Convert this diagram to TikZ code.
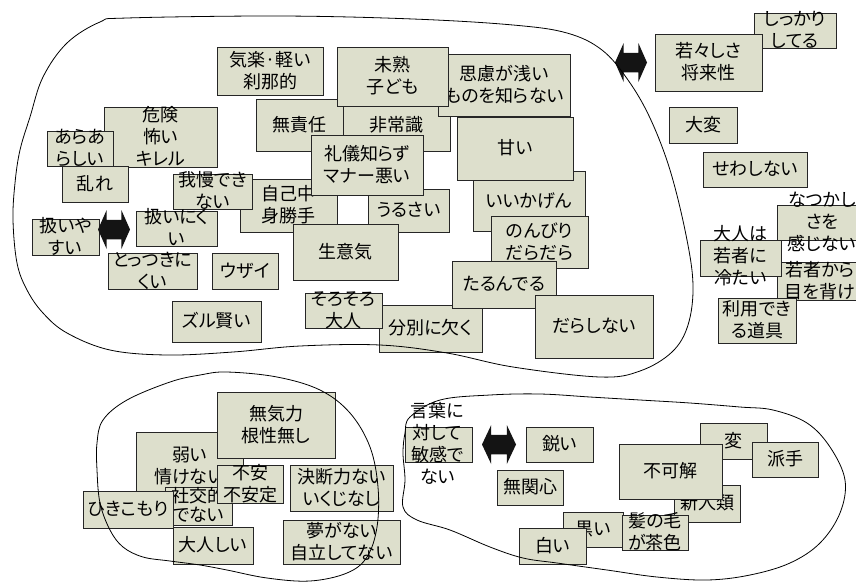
\documentclass[tikz,border=0pt]{standalone}
\usepackage{fontspec}
\setmainfont{Noto Sans CJK JP}[RawFeature={+palt}]
\usetikzlibrary{calc}
\definecolor{boxfill}{RGB}{221,223,204}
\tikzset{
 boxst/.style={draw=black!85, line width=0.9pt, fill=boxfill, inner sep=0pt, outer sep=0pt},
 txt/.style={align=center, inner sep=0pt, font=\fontsize{18}{22}\selectfont},
 blob/.style={draw=black, line width=0.8pt},
 dblarrow/.style={fill=black!92, draw=none}
}
\newcommand\jst{\rule[-0.13em]{0pt}{0.9em}}
% name x1 y1 x2 y2 text
\newcommand\bx[6]{%
 \node[boxst, minimum width={(#4-#2)*1pt}, minimum height={(#5-#3)*1pt}] (#1) at ({(#2+#4)/2},{(#3+#5)/2}) {};
 \node[txt] (#1t) at (#1.center) {\jst#6\jst};}
% name x1 y1 x2 y2 textoptions text
\newcommand\bxx[7]{%
 \node[boxst, minimum width={(#4-#2)*1pt}, minimum height={(#5-#3)*1pt}] (#1) at ({(#2+#4)/2},{(#3+#5)/2}) {};
 \node[txt,#6] (#1t) at (#1.center) {\jst#7\jst};}
% name x1 y1 x2 y2
\newcommand\dbl[5]{%
 \coordinate (#1) at ({(#2+#4)/2},{(#3+#5)/2});
 \fill[dblarrow] (#2,{(#3+#5)/2})
  -- ({#2+0.27*(#4-#2)},#3)
  -- ({#2+0.27*(#4-#2)},{(#3+#5)/2-0.25*(#5-#3)})
  -- ({#4-0.27*(#4-#2)},{(#3+#5)/2-0.25*(#5-#3)})
  -- ({#4-0.27*(#4-#2)},#3)
  -- (#4,{(#3+#5)/2})
  -- ({#4-0.27*(#4-#2)},#5)
  -- ({#4-0.27*(#4-#2)},{(#3+#5)/2+0.25*(#5-#3)})
  -- ({#2+0.27*(#4-#2)},{(#3+#5)/2+0.25*(#5-#3)})
  -- ({#2+0.27*(#4-#2)},#5) -- cycle;}
\begin{document}
\begin{tikzpicture}[x=1pt,y=-1pt]
\useasboundingbox[fill=white] (0,0) rectangle (856,582);
% ---------- top-left group ----------
\bx{kiraku}{217}{47}{323}{95}{気楽·軽い\\刹那的}
\bx{kiken}{104}{107}{217}{167}{危険\\怖い\\キレル}
\bx{araara}{47}{131}{113}{166}{あらあ\\らしい}
\bx{midare}{62}{166}{128}{202}{乱れ}
\bx{museki}{256}{99}{343}{151}{無責任}
\bx{hijou}{343}{100}{450}{151}{非常識}
\bx{shiryo}{438}{54}{570}{116}{思慮が浅い\\ものを知らない}
\bx{mijuku}{337}{47}{448}{106}{未熟\\子ども}
\bx{jiko}{240}{179}{337}{232}{自己中\\身勝手}
\bx{gaman}{173}{174}{252}{209}{我慢でき\\ない}
\bx{atsukaiB}{136}{211}{217}{246}{扱いにく\\い}
\bx{atsukaiA}{32}{219}{99}{255}{扱いや\\すい}
\dbl{arrA}{98}{210}{130}{249}
\bx{tottsuki}{108}{253}{197}{289}{とっつきに\\くい}
\bx{uzai}{212}{253}{278}{289}{ウザイ}
\bx{zuru}{172}{301}{261}{342}{ズル賢い}
\bx{urusai}{368}{189}{449}{232}{うるさい}
\bx{reigi}{311}{135}{423}{195}{礼儀知らず\\マナー悪い}
\bx{namaiki}{293}{224}{398}{280}{生意気}
\bx{iikagen}{473}{171}{585}{231}{いいかげん}
\bx{amai}{457}{117}{573}{180}{甘い}
\bx{nonbiri}{491}{216}{588}{268}{のんびり\\だらだら}
\bx{bunbetsu}{379}{305}{482}{352}{分別に欠く}
\bx{sorosoro}{305}{293}{382}{328}{そろそろ\\大人}
\bx{tarun}{452}{261}{556}{308}{たるんでる}
\bx{darashi}{535}{295}{653}{358}{だらしない}
% ---------- right group ----------
\dbl{arrB}{615}{43}{647}{82}
\bx{shikkari}{754}{13}{836}{48}{しっかり\\してる}
\bx{wakawaka}{655}{34}{762}{91}{若々しさ\\将来性}
\bx{taihen}{669}{107}{737}{143}{大変}
\bx{sewashi}{703}{152}{807}{187}{せわしない}
\bxx{natsu}{777}{205}{873}{240}{xshift=-3pt}{なつかし\\さを\\感じない}
\bxx{wakamono}{777}{262}{873}{300}{xshift=-5pt}{若者から\\目を背け}
\bxx{otona}{700}{240}{781}{276}{yshift=2pt}{大人は\\若者に\\冷たい}
\bx{riyou}{718}{298}{796}{343}{利用でき\\る道具}
% ---------- bottom-left group ----------
\bx{yowai}{136}{432}{243}{500}{弱い\\情けない}
\bx{muki}{217}{392}{335}{458}{無気力\\根性無し}
\bxx{shakou}{165}{487}{232}{525}{font=\fontsize{18}{19}\selectfont}{社交的\\でない}
\bx{fuan}{217}{465}{283}{503}{不安\\不安定}
\bx{ketsudan}{290}{465}{393}{511}{決断力ない\\いくじなし}
\bx{hiki}{83}{491}{173}{528}{ひきこもり}
\bx{otonashii}{173}{527}{253}{564}{大人しい}
\bx{yume}{283}{520}{400}{564}{夢がない\\自立してない}
% ---------- bottom-right group ----------
\bxx{kotoba}{405}{427}{472}{462}{xshift=-1pt}{言葉に\\対して\\敏感で\\ない}
\dbl{arrC}{482}{425}{516}{464}
\bx{surudoi}{526}{427}{593}{462}{鋭い}
\bx{mukan}{497}{470}{563}{505}{無関心}
\bx{hen}{700}{423}{767}{459}{変}
\bx{hade}{752}{442}{818}{477}{派手}
\bx{shinjin}{674}{485}{740}{522}{新人類}
\bx{fukakai}{619}{444}{722}{499}{不可解}
\bx{kuroi}{563}{512}{623}{547}{黒い}
\bx{kami}{622}{515}{688}{550}{髪の毛\\が茶色}
\bx{shiroi}{519}{528}{586}{564}{白い}
% ---------- outlines ----------
\draw[blob] plot[smooth cycle, tension=0.6] coordinates {
 (127,18) (280,16) (413,19) (513,25) (567,33) (602,50) (628,80) (650,118)
 (670,170) (686,235) (693,285) (688,325) (672,352) (640,371) (600,377)
 (513,367) (447,353) (380,345) (300,346) (233,352) (167,355) (110,350)
 (67,333) (43,313) (27,290) (17,263) (13,220) (15,183) (20,150) (30,117)
 (43,77) (67,43) (100,22)};
\draw[blob] plot[smooth cycle, tension=0.6] coordinates {
 (227,372) (277,377) (320,390) (350,413) (370,447) (378,487) (377,527)
 (367,557) (347,573) (310,581) (267,578) (227,570) (200,565) (170,561)
 (143,557) (123,547) (110,530) (100,503) (97,470) (97,443) (103,420)
 (127,400) (170,382) (200,375)};
\draw[blob] plot[smooth cycle, tension=0.6] coordinates {
 (410,417) (440,400) (490,395) (540,394) (590,397) (640,400) (690,403)
 (740,407) (773,410) (807,423) (830,447) (845,480) (840,513) (820,543)
 (790,563) (750,575) (707,580) (657,577) (607,570) (557,563) (523,558)
 (490,547) (450,530) (417,520) (403,507) (405,480) (403,453) (405,433)};
\end{tikzpicture}
\end{document}
